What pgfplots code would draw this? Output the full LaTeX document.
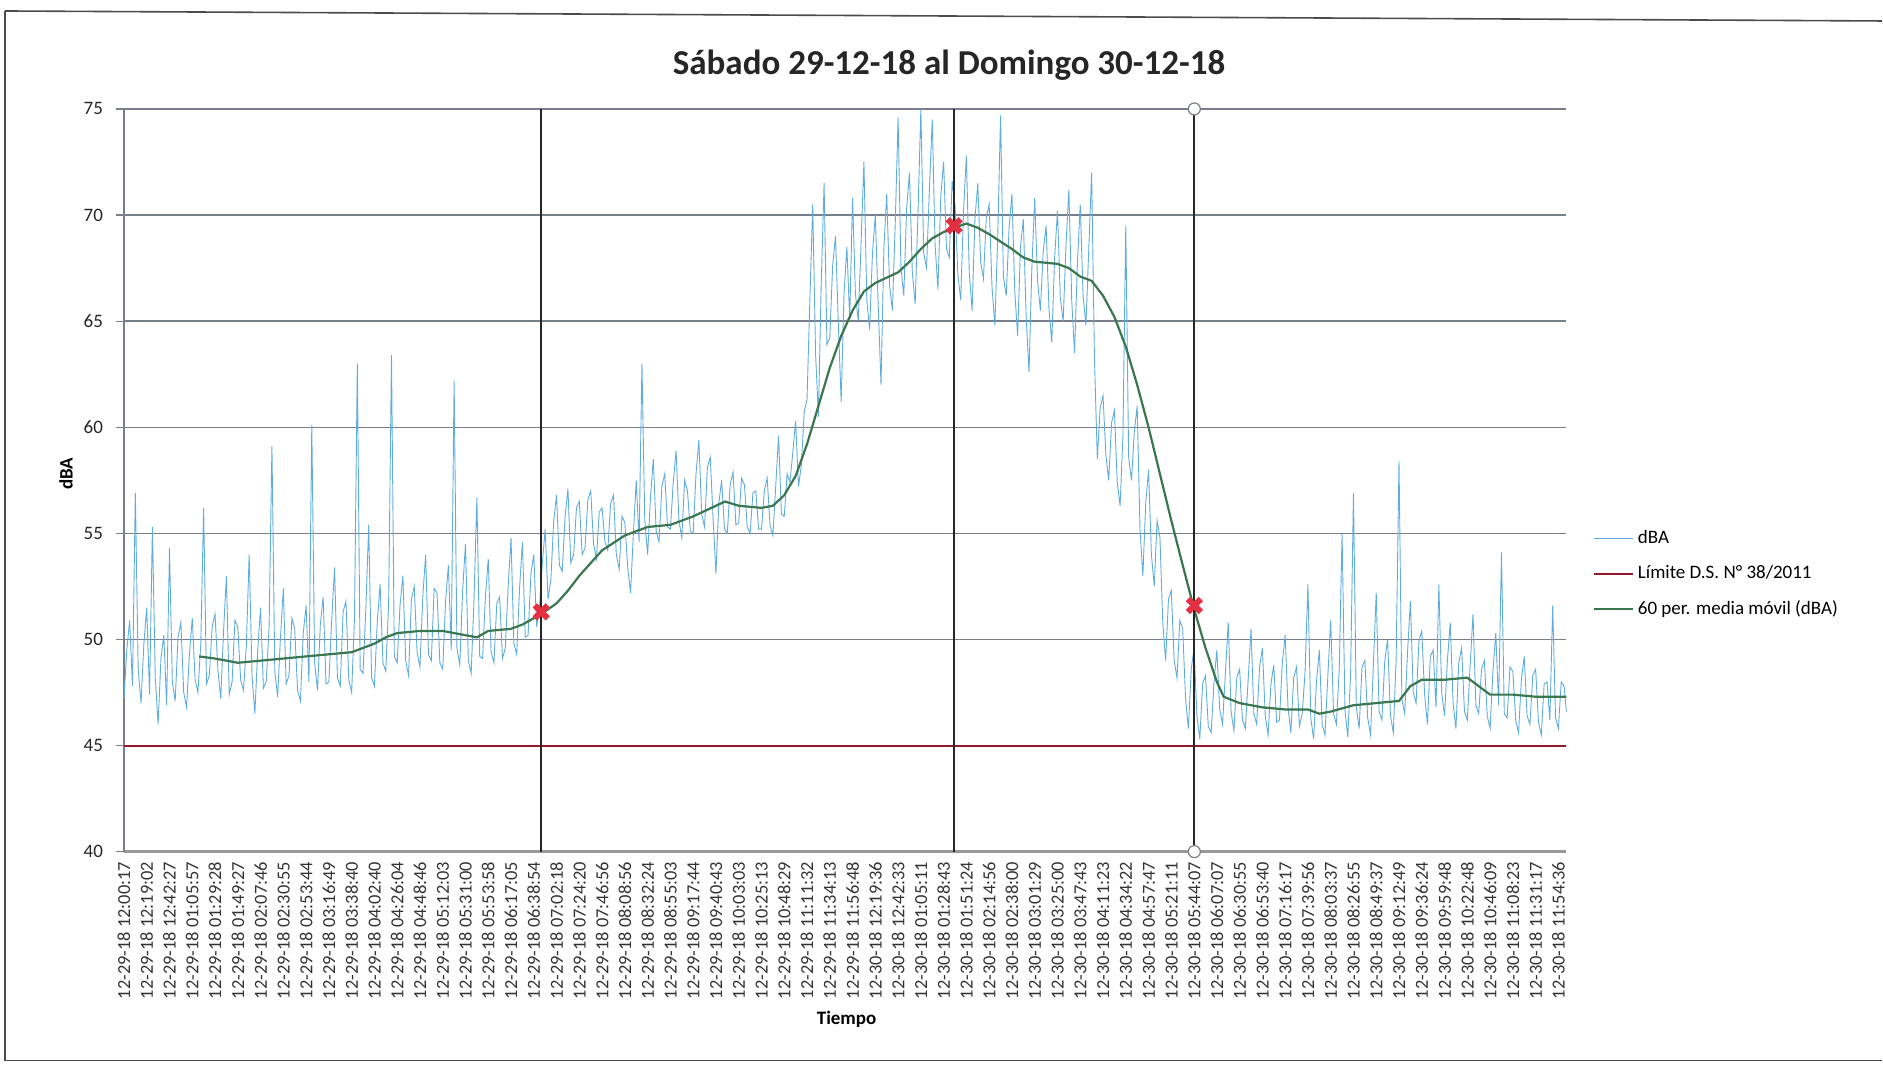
\documentclass[border=0pt]{standalone}
\usepackage{pgfplots}
\pgfplotsset{compat=1.18}
\usepackage{fontspec}
\setmainfont{Carlito}
\definecolor{bluel}{RGB}{95,172,222}
\definecolor{greenl}{RGB}{58,118,78}
\definecolor{redl}{RGB}{145,25,45}
\definecolor{gridc}{RGB}{120,126,138}
\definecolor{markr}{RGB}{228,48,66}
\begin{document}
\begin{tikzpicture}
\path (0,0) rectangle (941.5pt,532.5pt);
\draw[line width=0.8pt, black!70] (2.5pt,2pt) -- (2.5pt,527pt);
\draw[line width=0.8pt, black!70] (2.5pt,527pt) -- (941.5pt,522pt);
\draw[line width=0.8pt, black!70] (2.5pt,2pt) -- (941.5pt,2pt);
\begin{axis}[
  at={(62pt,106.5pt)}, anchor=south west,
  scale only axis, width=721.5pt, height=371.5pt,
  xmin=0, xmax=63.35, ymin=40, ymax=75,
  ytick={40,45,...,75},
  xtick={0,...,63},
  xticklabels={12-29-18 12:00:17,12-29-18 12:19:02,12-29-18 12:42:27,12-29-18 01:05:57,12-29-18 01:29:28,12-29-18 01:49:27,12-29-18 02:07:46,12-29-18 02:30:55,12-29-18 02:53:44,12-29-18 03:16:49,12-29-18 03:38:40,12-29-18 04:02:40,12-29-18 04:26:04,12-29-18 04:48:46,12-29-18 05:12:03,12-29-18 05:31:00,12-29-18 05:53:58,12-29-18 06:17:05,12-29-18 06:38:54,12-29-18 07:02:18,12-29-18 07:24:20,12-29-18 07:46:56,12-29-18 08:08:56,12-29-18 08:32:24,12-29-18 08:55:03,12-29-18 09:17:44,12-29-18 09:40:43,12-29-18 10:03:03,12-29-18 10:25:13,12-29-18 10:48:29,12-29-18 11:11:32,12-29-18 11:34:13,12-29-18 11:56:48,12-30-18 12:19:36,12-30-18 12:42:33,12-30-18 01:05:11,12-30-18 01:28:43,12-30-18 01:51:24,12-30-18 02:14:56,12-30-18 02:38:00,12-30-18 03:01:29,12-30-18 03:25:00,12-30-18 03:47:43,12-30-18 04:11:23,12-30-18 04:34:22,12-30-18 04:57:47,12-30-18 05:21:11,12-30-18 05:44:07,12-30-18 06:07:07,12-30-18 06:30:55,12-30-18 06:53:40,12-30-18 07:16:17,12-30-18 07:39:56,12-30-18 08:03:37,12-30-18 08:26:55,12-30-18 08:49:37,12-30-18 09:12:49,12-30-18 09:36:24,12-30-18 09:59:48,12-30-18 10:22:48,12-30-18 10:46:09,12-30-18 11:08:23,12-30-18 11:31:17,12-30-18 11:54:36},
  xticklabel style={rotate=90, anchor=east, font=\fontsize{9.2}{10}\selectfont, text=black!80, inner sep=1pt},
  yticklabel style={font=\fontsize{9.5}{11}\selectfont, text=black!85, xshift=-3pt},
  /pgf/number format/assume math mode=true,
  x tick style={draw=none},
  y tick style={gridc, line width=0.6pt},
  tick align=outside, major tick length=4pt,
  axis x line*=bottom, axis y line*=left,
  x axis line style={black!40, line width=1.4pt, -},
  y axis line style={gridc, line width=0.7pt, -},
  ymajorgrids, grid style={gridc, line width=0.7pt},
  title={\fontsize{17.5}{20}\selectfont\bfseries Sábado 29-12-18 al Domingo 30-12-18},
  title style={at={(0.572,1)}, anchor=center, yshift=16pt, text=black!85},
  xlabel={\bfseries Tiempo},
  xlabel style={at={(axis description cs:0.501,0)}, anchor=center, yshift=-84pt, font=\fontsize{9.5}{11}\selectfont},
  ylabel={\bfseries dBA},
  ylabel style={at={(axis description cs:-0.0402,0.509)}, anchor=center, font=\fontsize{9.5}{11}\selectfont},
  legend style={at={(1.0,0.374)}, anchor=west, xshift=13pt, draw=none, fill=none, font=\fontsize{9.5}{11}\selectfont, row sep=5.5pt, inner sep=0pt},
  legend cell align=left,
  legend image code/.code={\draw[#1] (0pt,0pt) -- (19.5pt,0pt);},
  clip=false,
]
\addplot[bluel, line width=0.45pt] coordinates {
(0,47.2)(0.125,49.5)(0.25,50.9)(0.375,47.8)(0.5,56.9)(0.625,48.6)(0.75,47.0)(0.875,49.8)
(1,51.5)(1.125,47.4)(1.25,55.3)(1.375,48.2)(1.5,46.0)(1.625,49.1)(1.75,50.2)(1.875,46.9)
(2,54.3)(2.125,48.0)(2.25,47.1)(2.375,50.1)(2.5,50.8)(2.625,47.5)(2.75,46.8)(2.875,49.3)
(3,51.0)(3.125,48.1)(3.25,47.5)(3.375,49.8)(3.5,56.2)(3.625,47.9)(3.75,48.3)(3.875,50.6)
(4,51.2)(4.125,48.6)(4.25,47.2)(4.375,50.4)(4.5,53.0)(4.625,47.4)(4.75,48.0)(4.875,50.9)
(5,50.6)(5.125,48.1)(5.25,47.6)(5.375,49.7)(5.5,54.0)(5.625,48.3)(5.75,46.5)(5.875,49.5)
(6,51.5)(6.125,47.7)(6.25,48.0)(6.375,50.6)(6.5,59.1)(6.625,48.5)(6.75,47.3)(6.875,50.1)
(7,52.4)(7.125,47.9)(7.25,48.3)(7.375,51.0)(7.5,50.5)(7.625,47.6)(7.75,47.1)(7.875,50.3)
(8,51.6)(8.125,48.0)(8.25,60.1)(8.375,48.9)(8.5,47.6)(8.625,50.7)(8.75,52.0)(8.875,47.9)
(9,48.0)(9.125,50.9)(9.25,53.4)(9.375,48.2)(9.5,47.8)(9.625,51.3)(9.75,51.8)(9.875,48.1)
(10,47.5)(10.125,51.0)(10.25,63.0)(10.375,48.6)(10.5,48.4)(10.625,51.5)(10.75,55.4)(10.875,48.2)
(11,47.8)(11.125,50.8)(11.25,52.6)(11.375,48.9)(11.5,48.5)(11.625,51.7)(11.75,63.4)(11.875,49.2)
(12,48.9)(12.125,51.6)(12.25,53.0)(12.375,49.0)(12.5,48.3)(12.625,51.9)(12.75,52.5)(12.875,49.4)
(13,48.7)(13.125,52.0)(13.25,54.0)(13.375,49.3)(13.5,49.0)(13.625,52.4)(13.75,52.2)(13.875,48.9)
(14,48.6)(14.125,51.8)(14.25,53.5)(14.375,49.5)(14.5,62.2)(14.625,49.6)(14.75,48.8)(14.875,52.3)
(15,54.5)(15.125,49.0)(15.25,48.4)(15.375,51.9)(15.5,56.7)(15.625,49.2)(15.75,49.1)(15.875,52.0)
(16,53.8)(16.125,49.4)(16.25,48.9)(16.375,51.7)(16.5,52.0)(16.625,49.1)(16.75,49.6)(16.875,52.5)
(17,54.8)(17.125,49.8)(17.25,49.3)(17.375,52.4)(17.5,54.6)(17.625,50.1)(17.75,50.2)(17.875,53.1)
(18,54.0)(18.125,50.6)(18.25,51.5)(18.375,53.6)(18.5,55.2)(18.625,51.9)(18.75,52.8)(18.875,55.6)
(19,56.8)(19.125,53.5)(19.25,53.2)(19.375,55.8)(19.5,57.1)(19.625,53.6)(19.75,54.0)(19.875,56.2)
(20,56.5)(20.125,54.0)(20.25,54.3)(20.375,56.6)(20.5,57.0)(20.625,54.5)(20.75,53.8)(20.875,56.0)
(21,56.2)(21.125,54.6)(21.25,54.2)(21.375,56.4)(21.5,56.8)(21.625,54.0)(21.75,53.3)(21.875,55.8)
(22,55.5)(22.125,53.4)(22.25,52.2)(22.375,55.0)(22.5,57.5)(22.625,54.6)(22.75,63.0)(22.875,55.6)
(23,54.0)(23.125,56.7)(23.25,58.5)(23.375,55.1)(23.5,54.6)(23.625,57.2)(23.75,57.8)(23.875,55.3)
(24,55.2)(24.125,57.4)(24.25,58.9)(24.375,55.6)(24.5,54.8)(24.625,57.5)(24.75,57.0)(24.875,55.1)
(25,55.0)(25.125,57.8)(25.25,59.4)(25.375,55.9)(25.5,55.3)(25.625,58.1)(25.75,58.6)(25.875,55.7)
(26,53.1)(26.125,56.4)(26.25,57.5)(26.375,55.2)(26.5,55.0)(26.625,57.3)(26.75,57.9)(26.875,55.4)
(27,55.5)(27.125,57.6)(27.25,57.3)(27.375,55.3)(27.5,55.0)(27.625,56.9)(27.75,57.0)(27.875,55.2)
(28,55.2)(28.125,57.0)(28.25,57.6)(28.375,55.4)(28.5,54.9)(28.625,57.2)(28.75,59.6)(28.875,55.9)
(29,55.8)(29.125,57.8)(29.25,57.4)(29.375,58.8)(29.5,60.3)(29.625,57.2)(29.75,58.2)(29.875,60.7)
(30,61.3)(30.125,66.0)(30.25,70.5)(30.375,63.5)(30.5,60.5)(30.625,66.8)(30.75,71.5)(30.875,63.9)
(31,64.2)(31.125,67.6)(31.25,69.0)(31.375,64.9)(31.5,61.2)(31.625,66.3)(31.75,68.5)(31.875,65.1)
(32,70.8)(32.125,66.3)(32.25,65.0)(32.375,68.7)(32.5,72.5)(32.625,66.0)(32.75,64.6)(32.875,68.2)
(33,70.0)(33.125,65.8)(33.25,62.0)(33.375,68.4)(33.5,71.0)(33.625,66.7)(33.75,65.5)(33.875,69.6)
(34,74.6)(34.125,67.5)(34.25,66.2)(34.375,70.3)(34.5,72.0)(34.625,67.3)(34.75,65.8)(34.875,70.1)
(35,75.0)(35.125,68.2)(35.25,67.5)(35.375,71.2)(35.5,74.5)(35.625,68.6)(35.75,66.5)(35.875,70.9)
(36,72.5)(36.125,68.4)(36.25,68.0)(36.375,71.6)(36.5,70.5)(36.625,67.2)(36.75,66.0)(36.875,70.2)
(37,72.8)(37.125,67.3)(37.25,65.5)(37.375,69.8)(37.5,71.5)(37.625,67.8)(37.75,67.0)(37.875,69.9)
(38,70.5)(38.125,66.6)(38.25,64.8)(38.375,68.9)(38.5,74.7)(38.625,67.1)(38.75,66.2)(38.875,69.4)
(39,71.0)(39.125,66.4)(39.25,64.3)(39.375,68.5)(39.5,69.8)(39.625,65.2)(39.75,62.6)(39.875,67.5)
(40,70.8)(40.125,66.9)(40.25,65.5)(40.375,68.3)(40.5,69.5)(40.625,65.6)(40.75,64.0)(40.875,68.0)
(41,70.2)(41.125,66.1)(41.25,65.0)(41.375,68.6)(41.5,71.2)(41.625,66.0)(41.75,63.5)(41.875,67.7)
(42,70.5)(42.125,66.2)(42.25,64.8)(42.375,68.4)(42.5,72.0)(42.625,63.2)(42.75,58.5)(42.875,60.9)
(43,61.5)(43.125,58.7)(43.25,57.5)(43.375,60.2)(43.5,60.8)(43.625,57.4)(43.75,56.3)(43.875,59.6)
(44,69.5)(44.125,58.6)(44.25,57.5)(44.375,59.8)(44.5,61.0)(44.625,55.2)(44.75,53.0)(44.875,56.4)
(45,58.0)(45.125,54.0)(45.25,52.5)(45.375,55.6)(45.5,54.8)(45.625,50.8)(45.75,49.0)(45.875,51.9)
(46,52.3)(46.125,49.0)(46.25,48.2)(46.375,50.9)(46.5,50.5)(46.625,47.2)(46.75,45.8)(46.875,48.6)
(47,49.6)(47.125,46.4)(47.25,45.3)(47.375,47.9)(47.5,48.3)(47.625,45.9)(47.75,45.6)(47.875,48.0)
(48,49.5)(48.125,46.7)(48.25,46.0)(48.375,48.4)(48.5,50.8)(48.625,46.6)(48.75,45.7)(48.875,48.2)
(49,48.6)(49.125,46.2)(49.25,45.8)(49.375,48.1)(49.5,50.5)(49.625,46.5)(49.75,46.0)(49.875,48.7)
(50,49.6)(50.125,46.4)(50.25,45.5)(50.375,47.9)(50.5,48.8)(50.625,46.1)(50.75,46.2)(50.875,48.9)
(51,50.2)(51.125,46.8)(51.25,45.6)(51.375,48.2)(51.5,48.7)(51.625,45.9)(51.75,46.5)(51.875,48.5)
(52,52.6)(52.125,46.3)(52.25,45.3)(52.375,48.0)(52.5,49.5)(52.625,46.0)(52.75,45.5)(52.875,48.3)
(53,50.9)(53.125,46.5)(53.25,46.0)(53.375,48.6)(53.5,55.0)(53.625,46.7)(53.75,45.4)(53.875,48.4)
(54,56.9)(54.125,46.8)(54.25,45.8)(54.375,48.7)(54.5,49.0)(54.625,46.3)(54.75,45.5)(54.875,48.8)
(55,52.2)(55.125,46.6)(55.25,46.2)(55.375,49.0)(55.5,50.0)(55.625,46.4)(55.75,45.6)(55.875,49.1)
(56,58.4)(56.125,47.2)(56.25,46.5)(56.375,49.4)(56.5,51.8)(56.625,47.5)(56.75,47.0)(56.875,49.9)
(57,50.4)(57.125,47.4)(57.25,46.0)(57.375,49.2)(57.5,49.5)(57.625,46.8)(57.75,52.6)(57.875,47.5)
(58,46.4)(58.125,49.0)(58.25,50.8)(58.375,47.0)(58.5,45.8)(58.625,48.9)(58.75,49.6)(58.875,46.6)
(59,46.2)(59.125,48.8)(59.25,51.2)(59.375,46.9)(59.5,46.5)(59.625,48.6)(59.75,49.0)(59.875,46.4)
(60,45.8)(60.125,48.5)(60.25,50.3)(60.375,46.9)(60.5,54.1)(60.625,46.5)(60.75,46.3)(60.875,48.7)
(61,48.5)(61.125,46.2)(61.25,45.6)(61.375,48.1)(61.5,49.2)(61.625,46.4)(61.75,46.0)(61.875,48.3)
(62,48.6)(62.125,46.1)(62.25,45.5)(62.375,47.9)(62.5,48.0)(62.625,46.2)(62.75,51.6)(62.875,46.3)
(63,45.8)(63.125,48.0)(63.25,47.8)(63.35,46.6)
};
\addlegendentry{dBA}
\addplot[redl, line width=1pt] coordinates {(0,45) (63.35,45)};
\addlegendentry{Límite D.S. N° 38/2011}
\addplot[greenl, line width=1.1pt] coordinates {
(3.3,49.2)(4,49.1)(5,48.9)(6,49.0)(7,49.1)(8,49.2)(9,49.3)(10,49.4)
(11,49.8)(11.5,50.1)(12,50.3)(13,50.4)(14,50.4)(15,50.2)(15.5,50.1)
(16,50.4)(17,50.5)(17.5,50.7)(18,51.0)(18.33,51.2)(19,51.7)(19.5,52.3)
(20,53.0)(20.5,53.6)(21,54.2)(22,54.9)(23,55.3)(24,55.4)(25,55.8)
(26,56.3)(26.4,56.5)(27,56.3)(28,56.2)(28.5,56.3)(29,56.8)(29.5,57.7)
(30,59.2)(30.5,61.0)(31,62.8)(31.5,64.3)(32,65.5)(32.5,66.4)(33,66.8)
(34,67.3)(34.5,67.8)(35,68.4)(35.5,68.9)(36,69.2)(36.46,69.4)(37,69.6)
(37.5,69.4)(38,69.1)(39,68.4)(39.5,68.0)(40,67.8)(41,67.7)(41.5,67.5)
(42,67.1)(42.5,66.9)(43,66.2)(43.5,65.2)(44,63.8)(44.5,62.0)(45,60.0)
(45.5,57.8)(46,55.6)(46.5,53.5)(47.01,51.4)(47.5,49.6)(48,48.0)(48.3,47.3)
(49,47.0)(50,46.8)(51,46.7)(52,46.7)(52.5,46.5)(53,46.6)(54,46.9)
(55,47.0)(56,47.1)(56.5,47.8)(57,48.1)(58,48.1)(59,48.2)(59.5,47.8)
(60,47.4)(61,47.4)(62,47.3)(63.35,47.3)
};
\addlegendentry{60 per. media móvil (dBA)}
\addplot[black!85, line width=1pt, forget plot] coordinates {(18.33,40) (18.33,75)};
\addplot[black!85, line width=1pt, forget plot] coordinates {(36.46,40) (36.46,75)};
\addplot[black!85, line width=1pt, forget plot] coordinates {(47.01,40) (47.01,75)};
\addplot[only marks, mark=x, mark size=4.6pt, markr, line width=3pt, forget plot] coordinates {(18.33,51.3) (36.46,69.5) (47.01,51.6)};
\addplot[only marks, mark=*, mark size=3pt, mark options={fill=white, draw=gridc, line width=0.6pt}, forget plot] coordinates {(47.01,75) (47.01,40)};
\end{axis}
\end{tikzpicture}
\end{document}
